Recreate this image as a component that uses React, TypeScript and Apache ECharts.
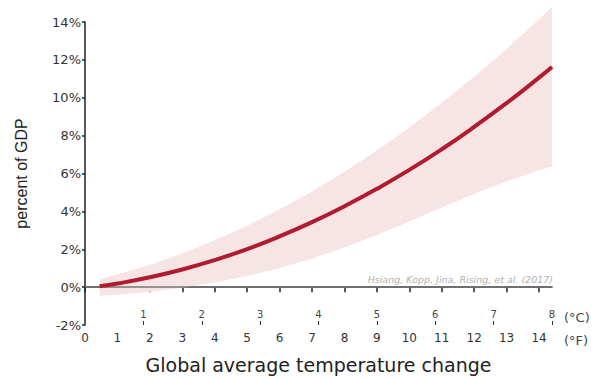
import React, { useEffect, useRef } from "react";
import * as echarts from "echarts";

const tempF = [0.45, 1, 2, 3, 4, 5, 6, 7, 8, 9, 10, 11, 12, 13, 14, 14.4];
const damage = [0.05, 0.19, 0.52, 0.93, 1.43, 2.01, 2.68, 3.43, 4.27, 5.19, 6.19, 7.28, 8.46, 9.72, 11.06, 11.62];
const upper = [0.42, 0.67, 1.18, 1.78, 2.47, 3.24, 4.11, 5.05, 6.09, 7.22, 8.43, 9.73, 11.11, 12.58, 14.14, 14.79];
const lower = [-0.45, -0.4, -0.25, -0.03, 0.25, 0.59, 1.01, 1.51, 2.09, 2.75, 3.47, 4.21, 4.93, 5.59, 6.17, 6.37];
const fTicks = [0, 1, 2, 3, 4, 5, 6, 7, 8, 9, 10, 11, 12, 13, 14];
const cTicks = [1, 2, 3, 4, 5, 6, 7, 8];
const yTicks = [-2, 0, 2, 4, 6, 8, 10, 12, 14];

const FONT = "'Liberation Sans', Arial, sans-serif";
const WIDE = "'DejaVu Sans', sans-serif";

export default function App() {
  const ref = useRef<HTMLDivElement>(null);
  useEffect(() => {
    if (!ref.current) return;
    const chart = echarts.init(ref.current, undefined, { renderer: "svg" });
    chart.setOption({
      animation: false,
      backgroundColor: "#ffffff",
      grid: { left: 85, top: 22, width: 467, height: 307, containLabel: false },
      xAxis: [
        {
          type: "value",
          min: 0,
          max: 14.4,
          position: "bottom",
          axisLine: { show: true, lineStyle: { color: "#222", width: 1.5 } },
          axisTick: { show: true, length: 5, customValues: fTicks, lineStyle: { color: "#222", width: 1.5 } },
          axisLabel: { customValues: fTicks, color: "#333", fontSize: 12, fontFamily: WIDE, margin: 7 },
          splitLine: { show: false },
          name: "Global average temperature change",
          nameLocation: "middle",
          nameGap: 30,
          nameTextStyle: { color: "#222", fontSize: 19, fontFamily: WIDE },
        },
        {
          type: "value",
          min: 0,
          max: 8,
          position: "bottom",
          offset: 0,
          axisLine: { show: false },
          axisTick: { show: true, inside: true, length: 4, customValues: cTicks, lineStyle: { color: "#333", width: 1 } },
          axisLabel: { inside: true, customValues: cTicks, color: "#444", fontSize: 10, fontFamily: WIDE, margin: 6 },
          splitLine: { show: false },
        },
      ],
      yAxis: {
        type: "value",
        min: -2,
        max: 14,
        interval: 2,
        axisLine: { show: true, lineStyle: { color: "#222", width: 1.5 } },
        axisTick: { show: true, length: 3, customValues: yTicks, lineStyle: { color: "#222", width: 1.5 } },
        axisLabel: { formatter: "{value}%", color: "#333", fontSize: 13, fontFamily: WIDE, margin: 4 },
        splitLine: { show: false },
        name: "percent of GDP",
        nameLocation: "middle",
        nameGap: 56,
        nameTextStyle: { color: "#222", fontSize: 16, fontFamily: FONT },
      },
      series: [
        {
          type: "custom",
          clip: false,
          silent: true,
          z: 1,
          data: [[0, 0]],
          renderItem: (_params: any, api: any) => {
            const pts: number[][] = [];
            for (let i = 0; i < tempF.length; i++) pts.push(api.coord([tempF[i], upper[i]]));
            for (let i = tempF.length - 1; i >= 0; i--) pts.push(api.coord([tempF[i], lower[i]]));
            return {
              type: "polygon",
              shape: { points: pts },
              style: { fill: "#f7e4e4", stroke: "none" },
            };
          },
        },
        {
          type: "line",
          data: tempF.map((t, i) => [t, damage[i]]),
          symbol: "none",
          smooth: true,
          lineStyle: { color: "#b01c2e", width: 4 },
          z: 5,
          markLine: {
            symbol: "none",
            silent: true,
            z: 2,
            label: { show: false },
            lineStyle: { color: "#777", width: 1.5, type: "solid" },
            data: [[{ coord: [0, 0] }, { coord: [14.4, 0] }]],
          },
        },
      ],
      graphic: [
        {
          type: "text",
          right: 41,
          top: 274,
          style: {
            text: "Hsiang, Kopp, Jina, Rising, et al. (2017)",
            fill: "#b0b0b0",
            fontSize: 9.5,
            fontStyle: "italic",
            fontFamily: WIDE,
          },
        },
        {
          type: "text",
          left: 564,
          top: 311,
          style: { text: "(°C)", fill: "#444", fontSize: 13, fontFamily: WIDE },
        },
        {
          type: "text",
          left: 564,
          top: 334,
          style: { text: "(°F)", fill: "#444", fontSize: 13, fontFamily: WIDE },
        },
      ],
    });
    return () => chart.dispose();
  }, []);
  return <div ref={ref} style={{ width: 594, height: 379, position: "absolute", left: 0, top: 0 }} />;
}
